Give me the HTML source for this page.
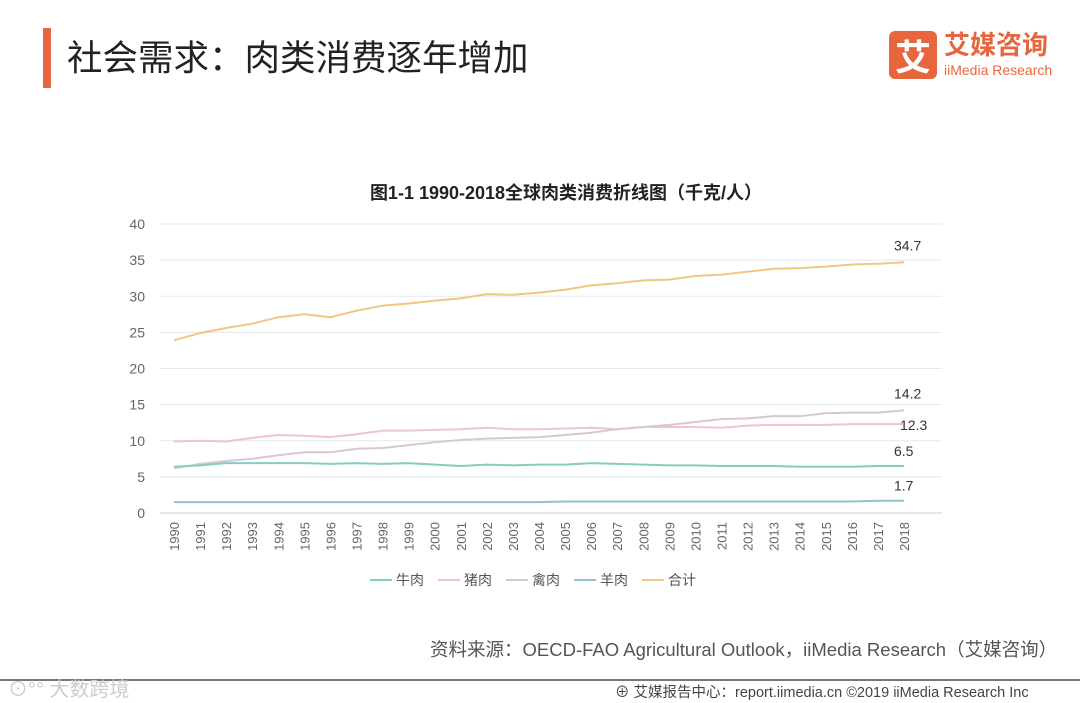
<!DOCTYPE html>
<html><head><meta charset="utf-8"><style>
body{margin:0;width:1080px;height:703px;background:#fff;overflow:hidden;font-family:"Liberation Sans","Noto Sans CJK SC",sans-serif;position:relative}
.abs{position:absolute}
</style></head><body>
<div class="abs" style="left:43px;top:28px;width:8px;height:60px;background:#e8663d"></div>
<div class="abs" style="left:67px;top:30px;font-size:35.5px;color:#222;font-family:'Noto Sans CJK SC',sans-serif">社会需求：肉类消费逐年增加</div>
<div class="abs" style="left:889px;top:31px;width:48px;height:48px;background:#e8663d;border-radius:6px;color:#fff;font-size:36px;line-height:48px;text-align:center;font-family:'Noto Sans CJK SC',sans-serif;font-weight:bold">艾</div>
<div class="abs" style="left:944px;top:28px;color:#e8663d;font-size:26px;font-weight:bold;font-family:'Noto Sans CJK SC',sans-serif;line-height:32px">艾媒咨询</div>
<div class="abs" style="left:944px;top:62px;color:#e8663d;font-size:14px">iiMedia Research</div>
<svg class="abs" style="left:0;top:0" width="1080" height="703">
<g id="g"></g>
</svg>
<div class="abs" style="left:430px;top:636px;font-size:18.5px;color:#555;white-space:nowrap">资料来源：OECD-FAO Agricultural Outlook，iiMedia Research（艾媒咨询）</div>
<div class="abs" style="left:0;top:679px;width:1080px;height:2px;background:#777"></div>
<div class="abs" style="left:8px;top:673px;font-size:20px;color:#ccc">⊙°° 大数跨境</div>
<div class="abs" style="left:615px;top:681px;font-size:14.5px;color:#444;white-space:nowrap">⊕ 艾媒报告中心：report.iimedia.cn  ©2019  iiMedia Research Inc</div>
<script>
const years=[1990,1991,1992,1993,1994,1995,1996,1997,1998,1999,2000,2001,2002,2003,2004,2005,2006,2007,2008,2009,2010,2011,2012,2013,2014,2015,2016,2017,2018];
const total=[23.9,24.9,25.6,26.2,27.1,27.5,27.1,28.0,28.7,29.0,29.4,29.7,30.3,30.2,30.5,30.9,31.5,31.8,32.2,32.3,32.8,33.0,33.4,33.8,33.9,34.1,34.4,34.5,34.7];
const pork=[9.9,10.0,9.9,10.4,10.8,10.7,10.5,10.9,11.4,11.4,11.5,11.6,11.8,11.6,11.6,11.7,11.8,11.6,11.9,11.9,11.9,11.8,12.1,12.2,12.2,12.2,12.3,12.3,12.3];
const poultry=[6.2,6.8,7.2,7.5,8.0,8.4,8.4,8.9,9.0,9.4,9.8,10.1,10.3,10.4,10.5,10.8,11.1,11.6,11.9,12.2,12.6,13.0,13.1,13.4,13.4,13.8,13.9,13.9,14.2];
const beef=[6.4,6.6,6.9,6.9,6.9,6.9,6.8,6.9,6.8,6.9,6.7,6.5,6.7,6.6,6.7,6.7,6.9,6.8,6.7,6.6,6.6,6.5,6.5,6.5,6.4,6.4,6.4,6.5,6.5];
const mutton=[1.5,1.5,1.5,1.5,1.5,1.5,1.5,1.5,1.5,1.5,1.5,1.5,1.5,1.5,1.5,1.6,1.6,1.6,1.6,1.6,1.6,1.6,1.6,1.6,1.6,1.6,1.6,1.7,1.7];
const yTicks=[0,5,10,15,20,25,30,35,40];
const seriesNames=["牛肉","猪肉","禽肉","羊肉","合计"];
const g=document.getElementById('g');const NS='http://www.w3.org/2000/svg';
const X0=174,X1=904,Y0=513,Y1=224;
const xs=i=>X0+(X1-X0)*i/(years.length-1);
const ys=v=>Y0-(Y0-Y1)*v/40;
function mk(t,a){const e=document.createElementNS(NS,t);for(const k in a)e.setAttribute(k,a[k]);g.appendChild(e);return e;}
let t=mk('text',{x:566,y:199,'text-anchor':'middle','font-size':18,'font-weight':'bold',fill:'#222'});t.textContent='图1-1 1990-2018全球肉类消费折线图（千克/人）';


yTicks.forEach(v=>{const l=mk('line',{x1:160,x2:942,y1:ys(v),y2:ys(v),stroke:v==0?'#ccc':'#e8e8e8'});


const tx=mk('text',{x:145,y:ys(v)+5,'text-anchor':'end','font-size':14,fill:'#666'});tx.textContent=v;

});
years.forEach((y,i)=>{const tx=mk('text',{x:0,y:0,'font-size':13,fill:'#666','text-anchor':'end',transform:`translate(${xs(i)+5},522) rotate(-90)`});tx.textContent=y;

});
const cols=['#86cdbf','#efc3d3','#d8c6d8','#8fc4d0','#f2c67f'];
const data=[beef,pork,poultry,mutton,total];
[4,1,2,0,3].forEach(k=>{const d=data[k].map((v,i)=>(i?'L':'M')+xs(i)+','+ys(v)).join('');
const p=mk('path',{d:d,fill:'none',stroke:cols[k],'stroke-width':2});

});
const labs=[[total,-12,0],[poultry,-12,0],[pork,6,6],[beef,-10,0],[mutton,-10,0]];
labs.forEach(([arr,dy,dx])=>{const n=arr.length-1;const tx=mk('text',{x:xs(n)+dx-10,y:ys(arr[n])+dy,'font-size':14,fill:'#333'});tx.textContent=arr[n];

});
let lx=370;seriesNames.forEach((n,k)=>{const l=mk('line',{x1:lx,x2:lx+22,y1:580,y2:580,stroke:cols[k],'stroke-width':2});


const tx=mk('text',{x:lx+26,y:585,'font-size':14,fill:'#555'});tx.textContent=n;

lx+=68;});
</script>
</body></html>
